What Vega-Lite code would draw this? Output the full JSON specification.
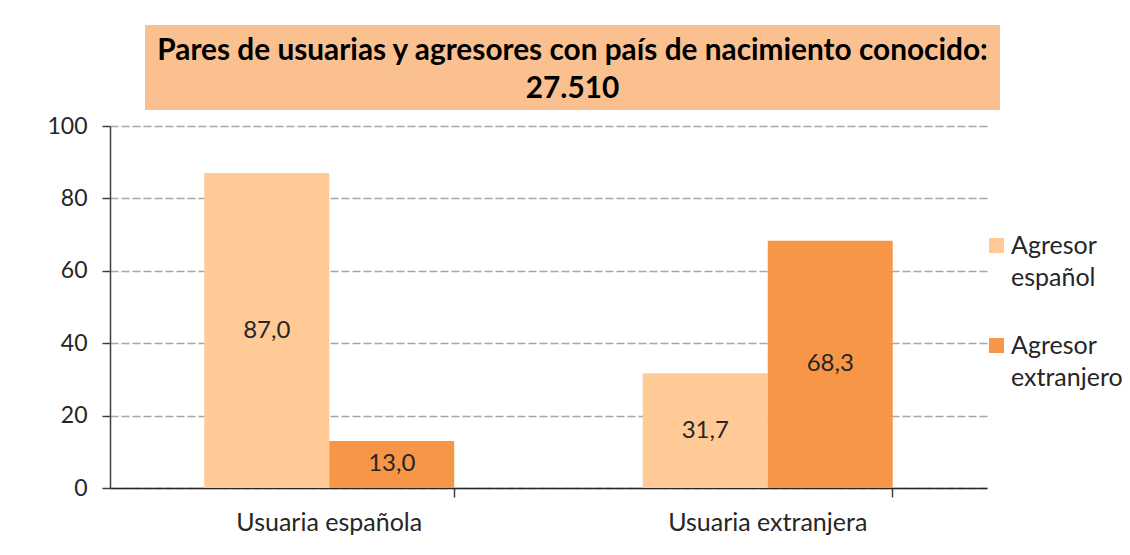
{
  "$schema": "https://vega.github.io/schema/vega-lite/v6.json",
  "background": "white",
  "padding": {"left": 46, "top": 25, "right": 5, "bottom": 5},
  "config": {
    "font": "Lato",
    "locale": {"number": {"decimal": ",", "thousands": ".", "grouping": [3], "currency": ["", " €"]}},
    "view": {"stroke": null},
    "style": {"guide-label": {"lineHeight": 32}}
  },
  "spacing": 5,
  "vconcat": [
    {
      "spacing": 34,
      "hconcat": [
        {
          "width": 1,
          "height": 85,
          "data": {"values": [{"t": ""}]},
          "mark": {"type": "text"},
          "encoding": {"text": {"field": "t"}}
        },
        {
          "width": 855,
          "height": 85,
          "view": {"fill": "#FAC090", "stroke": null},
          "data": {"values": [{"t": "Pares de usuarias y agresores con país de nacimiento conocido:|27.510"}]},
          "mark": {"type": "text", "lineBreak": "|", "fontSize": 29.8, "fontWeight": "bold", "lineHeight": 38, "dy": -17, "color": "black", "align": "center", "baseline": "middle"},
          "encoding": {"text": {"field": "t"}}
        }
      ]
    },
    {
      "width": 877,
      "height": 362,
      "data": {"values": [
        {"usuaria": "Usuaria española", "agresor": "Agresor español", "pct": 87.0},
        {"usuaria": "Usuaria española", "agresor": "Agresor extranjero", "pct": 13.0},
        {"usuaria": "Usuaria extranjera", "agresor": "Agresor español", "pct": 31.7},
        {"usuaria": "Usuaria extranjera", "agresor": "Agresor extranjero", "pct": 68.3}
      ]},
      "encoding": {
        "x": {
          "field": "usuaria", "type": "nominal", "sort": null,
          "scale": {"paddingInner": 0.43, "paddingOuter": 0.215},
          "axis": {"title": null, "labelAngle": 0, "labelFontSize": 25, "labelColor": "#262626", "labelPadding": 13, "labelLimit": 400,
                   "bandPosition": 1, "ticks": true, "tickSize": 9, "tickColor": "#404040", "tickWidth": 1.5,
                   "domainColor": "#262626", "domainWidth": 1.5, "grid": false}
        },
        "xOffset": {"field": "agresor", "type": "nominal", "sort": null, "scale": {"paddingInner": 0, "paddingOuter": 0}},
        "y": {
          "field": "pct", "type": "quantitative",
          "scale": {"domain": [0, 100], "nice": false},
          "axis": {"title": null, "values": [0, 20, 40, 60, 80, 100], "labelFontSize": 23, "labelColor": "#262626", "labelPadding": 15,
                   "tickSize": 8, "tickColor": "#404040", "tickWidth": 1.5, "domainColor": "#404040", "domainWidth": 1.5,
                   "grid": true, "gridDash": [8, 3], "gridColor": "#A6A6A6", "gridWidth": 1.6}
        }
      },
      "layer": [
        {
          "mark": {"type": "bar"},
          "encoding": {
            "color": {
              "field": "agresor", "type": "nominal", "sort": null,
              "scale": {"domain": ["Agresor español", "Agresor extranjero"], "range": ["#FFCA96", "#F79646"]},
              "legend": {"title": null, "orient": "none", "legendX": 874, "legendY": 208,
                         "symbolType": "square", "symbolSize": 225, "symbolStrokeWidth": 0,
                         "labelFontSize": 25, "labelColor": "#262626", "labelBaseline": "middle", "labelOffset": 2,
                         "labelExpr": "split(datum.label, ' ')", "rowPadding": 42, "labelLimit": 300}
            }
          }
        },
        {
          "mark": {"type": "text", "fontSize": 24, "color": "#262626", "baseline": "middle",
                   "dy": {"expr": "(scale('concat_1_y', 0) - scale('concat_1_y', datum.pct)) / 2"}},
          "encoding": {
            "text": {"field": "pct", "type": "quantitative", "format": ".1f"}
          }
        }
      ]
    }
  ]
}
